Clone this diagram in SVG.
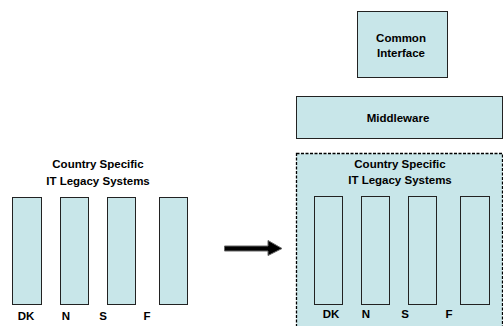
<svg xmlns="http://www.w3.org/2000/svg" width="503" height="326" viewBox="0 0 503 326">
<style>
.box{fill:#c8e6e9;stroke:#222;stroke-width:1}
.t{font-family:"Liberation Sans",Arial,sans-serif;font-weight:bold;font-size:11.5px;fill:#000;text-anchor:middle}
</style>
<rect width="503" height="326" fill="#fff"/>
<g id="left-legacy">
<text class="t" x="98" y="168">Country Specific</text>
<text class="t" x="98" y="185">IT Legacy Systems</text>
<rect class="box" x="12.5" y="197.5" width="29" height="107"/>
<rect class="box" x="60.5" y="197.5" width="28" height="107"/>
<rect class="box" x="107.5" y="197.5" width="28" height="107"/>
<rect class="box" x="159.5" y="197.5" width="28" height="107"/>
<text class="t" x="26" y="320">DK</text>
<text class="t" x="66" y="320">N</text>
<text class="t" x="103" y="320">S</text>
<text class="t" x="147" y="320">F</text>
</g>
<g id="common-interface">
<rect class="box" x="357.5" y="11.5" width="90" height="66"/>
<text class="t" x="401" y="42">Common</text>
<text class="t" x="401" y="57">Interface</text>
</g>
<g id="middleware">
<rect class="box" x="296.5" y="96.5" width="206" height="42"/>
<text class="t" x="398" y="122">Middleware</text>
</g>
<g id="right-legacy">
<rect x="296.5" y="153.5" width="206" height="180" fill="#c8e6e9" stroke="#000" stroke-width="1.3" stroke-dasharray="3,1.5"/>
<text class="t" x="400" y="168">Country Specific</text>
<text class="t" x="400" y="184">IT Legacy Systems</text>
<rect class="box" x="314.5" y="196.5" width="28" height="108"/>
<rect class="box" x="361.5" y="196.5" width="28" height="108"/>
<rect class="box" x="408.5" y="196.5" width="28" height="108"/>
<rect class="box" x="460.5" y="196.5" width="29" height="108"/>
<text class="t" x="331" y="318">DK</text>
<text class="t" x="366" y="318">N</text>
<text class="t" x="405" y="318">S</text>
<text class="t" x="449" y="318">F</text>
</g>
<g id="connectors">
<path d="M224.5,246 H268 V240.5 L282,248.5 L268,255.5 V251 H224.5 Z" fill="#000" stroke="#666" stroke-width="1"/>
</g>
</svg>
